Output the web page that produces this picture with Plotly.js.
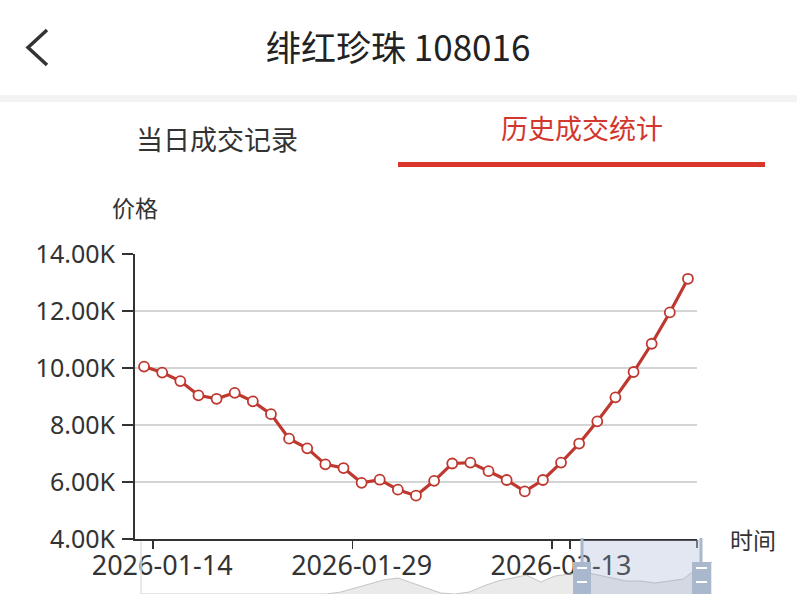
<!DOCTYPE html>
<html>
<head>
<meta charset="utf-8">
<script src="https://cdn.plot.ly/plotly-3.0.1.min.js"></script>
<style>
  html, body { margin: 0; padding: 0; background: #ffffff; }
  #chart { width: 797px; height: 594px; }
</style>
</head>
<body>
<div id="chart"></div>
<script>
// ---- data ----
const dates = [
  '2026-01-13','2026-01-14','2026-01-15','2026-01-16','2026-01-17','2026-01-19','2026-01-20',
  '2026-01-21','2026-01-23','2026-01-24','2026-01-26','2026-01-27','2026-01-29','2026-01-30',
  '2026-01-31','2026-02-02','2026-02-03','2026-02-04','2026-02-06','2026-02-07','2026-02-09',
  '2026-02-10','2026-02-11','2026-02-13','2026-02-14','2026-02-15','2026-02-16','2026-02-17',
  '2026-02-18','2026-02-19','2026-02-20'
];
const prices = [
  10050, 9840, 9540, 9040, 8920, 9130, 8830, 8380, 7520, 7180, 6620, 6490, 5970, 6080, 5730,
  5520, 6040, 6650, 6680, 6380, 6070, 5670, 6070, 6680, 7350, 8130, 8970, 9860, 10850, 11950, 13130
];
const xTickDates = ['2026-01-14', '2026-01-29', '2026-02-13'];
const yTickVals = [4000, 6000, 8000, 10000, 12000, 14000];
const yTickText = ['4.00K', '6.00K', '8.00K', '10.00K', '12.00K', '14.00K'];
// data-zoom slider shadow (overview of the series)
const shadowValues = [
  0,0,0,0,0,0,0,0,0,0,0,0,0,0,2,6,10,14,16,11,6,1,0,2,8,13,16,19,12,18,20,
  22,19,16,13,13,11,13,15,26,32
];

const pageTitle = '绯红珍珠 108016';
const tabLeft = '当日成交记录';
const tabRight = '历史成交统计';
const yName = '价格';
const xName = '时间';

// ---- layout helpers (pixel -> paper) ----
const W = 797, H = 594, ML = 135, MR = 85, MT = 254, MB = 0;
const PW = W - ML - MR, PH = H - MT - MB;
const px = v => (v - ML) / PW;
const py = v => (H - MB - v) / PH;

const red = '#bf3830';
const font = '"Noto Sans", "Noto Sans CJK SC", sans-serif';
const cjk = '"Noto Sans CJK SC", "Noto Sans", sans-serif';

const traces = [
  {
    type: 'scatter', mode: 'lines', x: shadowValues.map((_, i) => i), y: shadowValues,
    xaxis: 'x2', yaxis: 'y2', fill: 'tozeroy', fillcolor: 'rgba(185,185,185,0.3)',
    line: { color: 'rgba(175,175,175,0.7)', width: 1 }, hoverinfo: 'skip', showlegend: false
  },
  {
    type: 'scatter', mode: 'lines+markers', x: dates, y: prices,
    line: { color: red, width: 3.2 },
    marker: { size: 10, color: '#ffffff', line: { color: red, width: 1.8 } },
    showlegend: false
  }
];

const shapes = [
  // back chevron
  { type: 'path', xref: 'paper', yref: 'paper',
    path: `M ${px(47)} ${py(30)} L ${px(28)} ${py(47.5)} L ${px(47)} ${py(65)}`,
    line: { color: '#333', width: 3.5 } },
  // gray separator band
  { type: 'rect', xref: 'paper', yref: 'paper', x0: px(0), x1: px(797), y0: py(102), y1: py(95),
    fillcolor: '#f3f3f3', line: { width: 0 } },
  // active tab underline
  { type: 'rect', xref: 'paper', yref: 'paper', x0: px(398), x1: px(765), y0: py(167), y1: py(162),
    fillcolor: '#d9362c', line: { width: 0 } },
  // slider left edge
  { type: 'line', xref: 'paper', yref: 'paper', x0: px(141), x1: px(141), y0: py(541), y1: py(594),
    line: { color: '#e2e2e2', width: 1.5 } },
  // right end tick of x axis
  { type: 'line', xref: 'paper', yref: 'paper', x0: px(697), x1: px(697), y0: py(540), y1: py(548),
    line: { color: '#333', width: 1.5 } },
  // slider selection window
  { type: 'rect', xref: 'paper', yref: 'paper', x0: px(582), x1: px(701), y0: py(594), y1: py(540),
    fillcolor: 'rgba(150,170,205,0.28)', line: { width: 0 }, layer: 'above' },
  // handle lines
  { type: 'line', xref: 'paper', yref: 'paper', x0: px(582), x1: px(582), y0: py(538), y1: py(563),
    line: { color: '#a9b8cc', width: 3 }, layer: 'above' },
  { type: 'line', xref: 'paper', yref: 'paper', x0: px(701), x1: px(701), y0: py(538), y1: py(563),
    line: { color: '#a9b8cc', width: 3 }, layer: 'above' },
  // handles
  { type: 'rect', xref: 'paper', yref: 'paper', x0: px(573), x1: px(591), y0: py(594), y1: py(562),
    fillcolor: '#a9b8cc', line: { width: 0 }, layer: 'above' },
  { type: 'rect', xref: 'paper', yref: 'paper', x0: px(692), x1: px(711), y0: py(594), y1: py(562),
    fillcolor: '#a9b8cc', line: { width: 0 }, layer: 'above' },
  // handle grip marks
  { type: 'line', xref: 'paper', yref: 'paper', x0: px(577), x1: px(587), y0: py(568), y1: py(568),
    line: { color: '#ffffff', width: 2 }, layer: 'above' },
  { type: 'line', xref: 'paper', yref: 'paper', x0: px(577), x1: px(587), y0: py(582), y1: py(582),
    line: { color: '#ffffff', width: 2 }, layer: 'above' },
  { type: 'line', xref: 'paper', yref: 'paper', x0: px(696), x1: px(707), y0: py(568), y1: py(568),
    line: { color: '#ffffff', width: 2 }, layer: 'above' },
  { type: 'line', xref: 'paper', yref: 'paper', x0: px(696), x1: px(707), y0: py(582), y1: py(582),
    line: { color: '#ffffff', width: 2 }, layer: 'above' }
];

const annotations = [
  { text: pageTitle, xref: 'paper', yref: 'paper', x: px(398), y: py(46), showarrow: false,
    xanchor: 'center', yanchor: 'middle', font: { family: cjk, size: 35, color: '#222' } },
  { text: tabLeft, xref: 'paper', yref: 'paper', x: px(216.5), y: py(138), showarrow: false,
    xanchor: 'center', yanchor: 'middle', font: { family: cjk, size: 27, color: '#333' } },
  { text: tabRight, xref: 'paper', yref: 'paper', x: px(581.5), y: py(127), showarrow: false,
    xanchor: 'center', yanchor: 'middle', font: { family: cjk, size: 27, color: '#d2372d' } },
  { text: yName, xref: 'paper', yref: 'paper', x: px(135), y: py(207), showarrow: false,
    xanchor: 'center', yanchor: 'middle', font: { family: cjk, size: 23, color: '#333' } },
  { text: xName, xref: 'paper', yref: 'paper', x: px(753), y: py(539), showarrow: false,
    xanchor: 'center', yanchor: 'middle', font: { family: cjk, size: 23, color: '#333' } }
];

const layout = {
  width: W, height: H,
  margin: { l: ML, r: MR, t: MT, b: MB, pad: 0 },
  paper_bgcolor: '#ffffff', plot_bgcolor: '#ffffff',
  showlegend: false,
  xaxis: {
    type: 'category', domain: [0, px(697)], anchor: 'y',
    range: [-0.5, dates.length - 0.5], autorange: false,
    showline: true, linecolor: '#333', linewidth: 2,
    ticks: 'outside', ticklen: 8, tickwidth: 1.5, tickcolor: '#333',
    tickson: 'boundaries', tickmode: 'array', tickvals: xTickDates, ticktext: xTickDates,
    tickangle: 0, automargin: false, ticklabelstandoff: 2,
    showgrid: false, zeroline: false,
    tickfont: { family: font, size: 27, color: '#333' }
  },
  yaxis: {
    domain: [py(539), 1], anchor: 'x', range: [4000, 14000], autorange: false,
    tickmode: 'array', tickvals: yTickVals, ticktext: yTickText,
    showline: true, linecolor: '#333', linewidth: 2,
    ticks: 'outside', ticklen: 11, tickwidth: 1.5, tickcolor: '#333',
    ticklabelstandoff: 2, automargin: false,
    showgrid: true, gridcolor: '#d4d4d4', gridwidth: 1.5, zeroline: false,
    tickfont: { family: font, size: 25, color: '#333' }
  },
  xaxis2: { domain: [px(141), 1], anchor: 'y2', range: [0, shadowValues.length - 1], visible: false },
  yaxis2: { domain: [0, py(540)], anchor: 'x2', range: [0, 54], visible: false },
  shapes: shapes,
  annotations: annotations
};

Plotly.newPlot('chart', traces, layout, { displayModeBar: false, staticPlot: true });
</script>
</body>
</html>
